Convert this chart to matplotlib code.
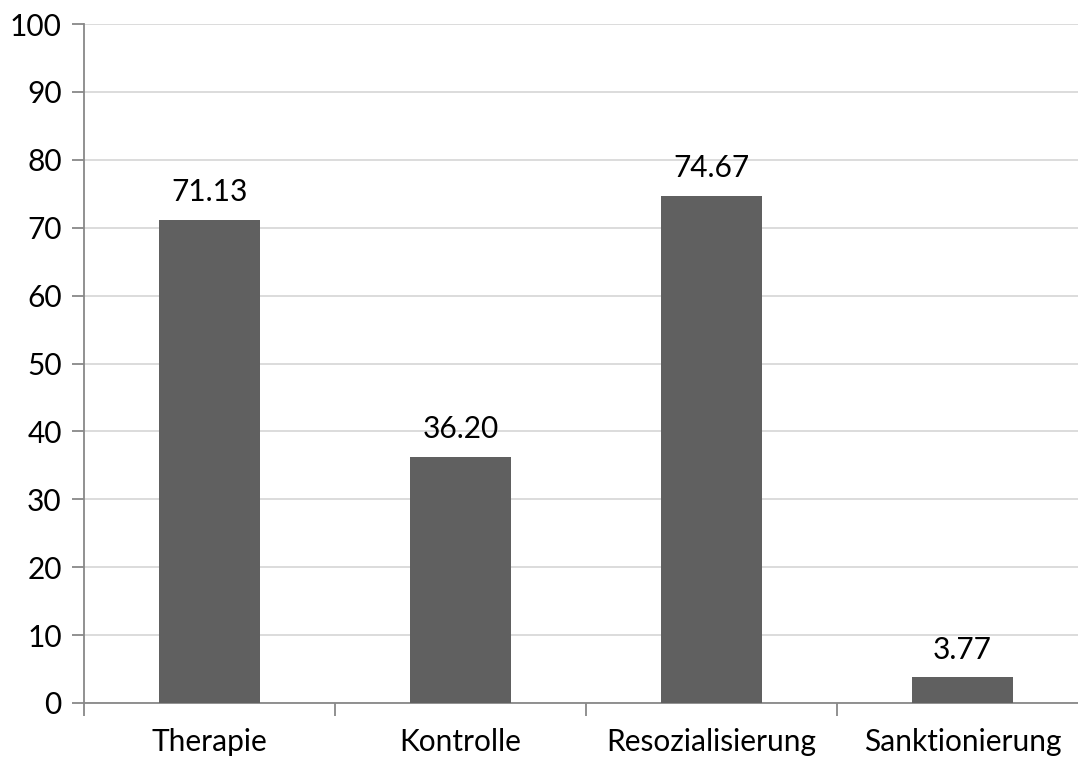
import matplotlib
matplotlib.use("Agg")
import matplotlib.pyplot as plt
import numpy as np

categories = ["Therapie", "Kontrolle", "Resozialisierung", "Sanktionierung"]
values = [71.13, 36.20, 74.67, 3.77]
yticks = [0, 10, 20, 30, 40, 50, 60, 70, 80, 90, 100]

plt.rcParams['font.family'] = ['Lato', 'DejaVu Sans']
FS = 21.5

fig = plt.figure(figsize=(10.78, 7.57), dpi=100)
ax = fig.add_axes([84/1078, 54/757, 1004/1078, 679/757])

x = np.arange(len(categories))
ax.bar(x, values, width=0.4, color="#606060", zorder=3)
for xi, v in zip(x, values):
    ax.annotate(f"{v:.2f}", (xi, v), xytext=(0, 10), textcoords="offset points",
                ha="center", va="bottom", fontsize=FS, color="#000000")

ax.set_xlim(-0.5, len(categories) - 0.5)
ax.set_ylim(0, 100)
ax.set_yticks(yticks)
ax.set_yticklabels([str(t) for t in yticks], fontsize=FS, color="#000000")
ax.yaxis.grid(True, color="#d9d9d9", linewidth=1.3, zorder=0)
ax.set_axisbelow(True)

ax.set_xticks(x)
ax.set_xticklabels(categories, fontsize=FS, color="#000000")
ax.tick_params(axis="x", length=0, pad=18)
ax.set_xticks(np.arange(-0.5, len(categories) + 0.5, 1), minor=True)
ax.tick_params(axis="x", which="minor", length=9, color="#888888", width=1.3)
ax.tick_params(axis="y", length=9, color="#888888", width=1.3, pad=7)

for s in ["top", "right"]:
    ax.spines[s].set_visible(False)
for s in ["left", "bottom"]:
    ax.spines[s].set_color("#888888")
    ax.spines[s].set_linewidth(1.3)

fig.savefig("out.png", dpi=100)
